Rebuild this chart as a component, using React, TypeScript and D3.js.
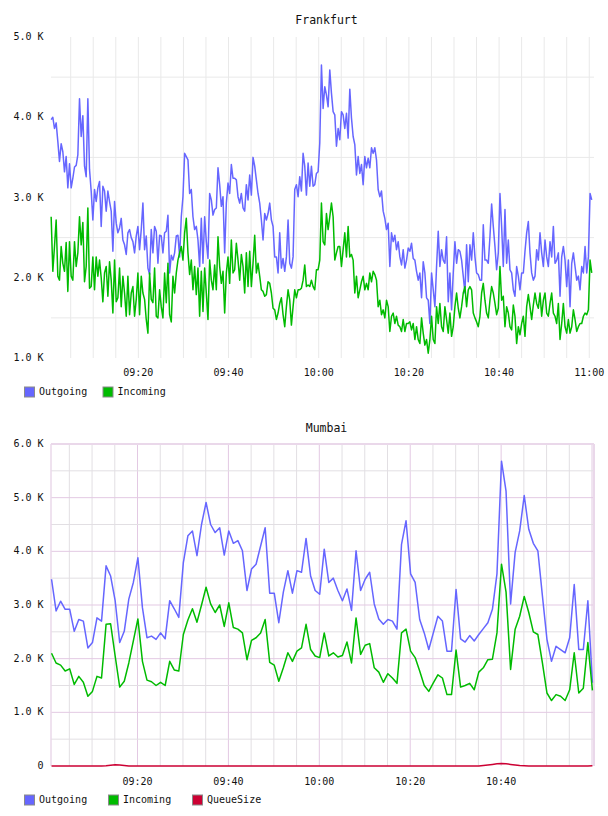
import React from "react";
import * as d3 from "d3";

// ---------- Frankfurt (samples every 22.2 s, values in thousands) ----------
const frankfurtStart = "09:00:40";
const frankfurtStepSeconds = 22.2;
const frankfurtDomain = ["09:00:38", "11:01:03"];
const frankfurtTimeTicks = ["09:20", "09:40", "10:00", "10:20", "10:40", "11:00"];
const frankfurtValueTicks = [1, 2, 3, 4, 5];
const frankfurtGridValues = [1.5, 2.5, 3.5, 4.5];

const frankfurtOutgoing = [
  3.97, 4.0, 3.86, 3.93, 3.7, 3.45, 3.67, 3.57, 3.32, 3.51,
  3.12, 3.42, 3.12, 3.24, 3.38, 3.4, 3.53, 4.23, 3.76, 4.02,
  3.39, 3.26, 4.23, 3.35, 3.08, 2.72, 3.1, 2.95, 3.12, 3.2,
  2.64, 3.14, 3.08, 2.83, 3.08, 2.95, 2.83, 2.33, 2.95, 2.68,
  2.56, 2.62, 2.74, 2.47, 2.41, 2.29, 2.56, 2.6, 2.5, 2.45,
  2.31, 2.52, 2.64, 2.35, 2.6, 2.93, 2.35, 2.52, 2.12, 2.04,
  2.6, 2.31, 2.64, 2.58, 2.18, 2.53, 2.52, 2.31, 2.56, 2.58,
  2.78, 2.06, 2.28, 2.22, 2.31, 2.52, 2.53, 2.26, 2.76, 3.01,
  3.55, 3.51,
  3.47, 3.05, 3.1, 2.76, 2.6, 2.64, 2.47, 2.14, 2.74, 2.18,
  2.76, 2.45, 2.24, 3.05, 2.97, 2.78, 2.85, 2.87, 3.37, 3.16,
  2.89, 3.01, 2.31, 2.93, 3.18, 3.05, 3.41, 3.24, 3.24, 3.22,
  3.01, 2.93, 3.05, 2.87, 2.83, 3.16, 2.97, 3.28, 3.03, 3.5,
  3.39, 3.22, 3.05, 2.93, 2.72, 2.47, 2.8, 2.72, 2.8, 2.93,
  2.72, 2.64, 2.26, 2.26, 2.06, 2.56, 2.12, 2.24, 2.08, 2.26,
  2.72, 2.18, 2.12, 2.26, 3.1, 3.16, 3.01, 3.26, 3.08, 3.55,
  3.39, 3.03, 3.43, 3.14, 3.39, 3.14, 3.16, 3.3, 3.32, 3.68,
  4.65,
  4.11, 4.38, 4.28, 4.13, 4.59, 4.3, 4.07, 4.03, 3.64, 3.86,
  3.72, 4.07, 4.03, 3.86, 4.05, 3.74, 4.35, 3.99, 3.76, 3.66,
  3.28, 3.51, 3.3, 3.41, 3.16, 3.51, 3.37, 3.49, 3.37, 3.62,
  3.55, 3.62, 3.47, 3.1, 3.01, 3.08, 2.83, 2.74, 2.6, 2.68,
  2.14, 2.56, 2.45, 2.53, 2.35, 2.45, 2.26, 2.16, 2.35, 2.12,
  2.22, 2.37, 2.33, 2.43, 2.24, 2.22, 2.08, 1.97, 2.06, 1.75,
  2.2, 2.06, 1.75, 1.72, 1.43, 2.06, 1.85, 1.64, 2.14, 2.58,
  2.14, 2.35, 2.22, 2.18, 2.51, 1.7, 2.06, 1.6, 2.06, 2.45,
  2.18, 2.35,
  2.33, 2.22, 2.02, 1.81, 2.41, 1.95, 2.41, 2.22, 2.56, 2.26,
  2.06, 2.04, 1.97, 1.97, 2.66, 2.22, 2.22, 2.18, 2.51, 2.92,
  2.64, 2.39, 2.1, 2.31, 3.05, 2.64, 2.14, 2.85, 2.18, 2.47,
  2.1, 2.06, 1.85, 1.77, 2.14, 2.02, 1.85, 2.06, 2.06, 2.33,
  2.56, 2.7, 2.31, 2.06, 1.97, 2.02, 2.35, 2.22, 2.56, 2.31,
  2.14, 2.47, 2.26, 2.14, 2.45, 2.26, 2.64, 2.18, 2.22, 2.31,
  1.77, 2.26, 2.39, 2.22, 1.89, 2.22, 1.64, 2.18, 2.31, 2.14,
  1.97, 2.02, 1.85, 2.14, 2.06, 2.39, 2.06, 2.26, 3.05, 2.97,
];

const frankfurtIncoming = [
  2.76, 2.08, 2.39, 2.72, 2.02, 1.97, 2.39, 2.18, 2.08, 2.44,
  1.83, 2.45, 2.02, 1.97, 2.45, 2.14, 2.31, 2.76, 2.41, 2.69,
  1.95, 2.14, 2.87, 1.87, 1.89, 2.26, 1.85, 2.26, 2.02, 2.22,
  2.0, 1.7, 2.06, 2.14, 1.77, 2.2, 1.97, 1.56, 2.22, 1.7,
  1.75, 2.12, 1.64, 2.02, 1.81, 1.52, 2.02, 1.54, 1.81, 1.89,
  1.52, 1.73, 2.06, 1.54, 2.02, 1.81, 1.73, 1.48, 1.31, 2.06,
  1.73, 1.69, 2.12, 1.52, 1.5, 1.85, 1.64, 1.5, 2.06, 1.69,
  2.18, 1.54, 1.45, 2.02, 1.81, 2.06, 2.22, 2.31, 2.39, 2.22,
  2.56, 2.74,
  2.31, 2.04, 2.22, 1.85, 2.14, 1.79, 2.12, 1.52, 2.08, 1.58,
  2.12, 1.81, 1.48, 2.22, 1.97, 1.85, 2.16, 1.85, 2.51, 2.14,
  1.93, 2.08, 1.56, 2.06, 2.26, 1.93, 2.47, 2.06, 2.1, 2.43,
  2.22, 1.97, 2.29, 2.14, 1.81, 2.31, 1.89, 2.33, 1.89, 2.18,
  2.53, 2.06, 2.18, 2.02, 1.85, 1.83, 1.77, 1.79, 1.95, 1.93,
  1.81, 1.62, 1.6, 1.48, 1.56, 1.68, 1.75, 1.54, 1.39, 1.64,
  1.85, 1.72, 1.41, 1.64, 1.85, 1.75, 1.85, 1.85, 1.87, 1.97,
  2.16, 1.89, 1.91, 1.89, 1.97, 1.89, 1.85, 2.1, 2.1, 2.22,
  2.93,
  2.45, 2.41, 2.8, 2.6, 2.76, 2.93, 2.76, 2.22, 2.31, 2.39,
  2.39, 2.14, 2.35, 2.56, 2.26, 2.64, 2.26, 2.29, 2.22, 1.81,
  2.02, 1.75, 1.85, 1.95, 2.02, 1.85, 1.93, 1.85, 2.06, 1.95,
  2.08, 2.04, 1.97, 1.64, 1.72, 1.54, 1.6, 1.5, 1.72, 1.64,
  1.33, 1.52, 1.56, 1.43, 1.52, 1.41, 1.39, 1.33, 1.48, 1.33,
  1.43, 1.43, 1.45, 1.35, 1.43, 1.23, 1.39, 1.23, 1.18, 1.5,
  1.31, 1.16, 1.23, 1.06, 1.23, 1.52, 1.23, 1.18, 1.64, 1.43,
  1.68, 1.39, 1.33, 1.64, 1.48, 1.31, 1.56, 1.27, 1.39, 1.64,
  1.81, 1.62,
  1.5, 1.64, 1.81, 1.89, 1.64, 1.85, 1.89, 1.85, 1.56, 1.5,
  1.45, 1.39, 1.52, 1.81, 1.93, 1.72, 1.56, 1.5, 1.72, 1.89,
  1.81, 1.68, 1.54, 1.62, 2.14, 1.72, 1.77, 1.39, 1.64, 1.56,
  1.39, 1.35, 1.66, 1.52, 1.18, 1.39, 1.29, 1.43, 1.52, 1.27,
  1.64, 1.79, 1.64, 1.48, 1.66, 1.81, 1.68, 1.62, 1.81, 1.52,
  1.72, 1.81, 1.56, 1.52, 1.68, 1.81, 1.56, 1.52, 1.43, 1.68,
  1.23, 1.43, 1.68, 1.39, 1.31, 1.48, 1.31, 1.39, 1.6, 1.48,
  1.33, 1.39, 1.43, 1.43, 1.52, 1.56, 1.54, 1.6, 2.22, 2.06,
];

// ---------- Mumbai (one sample per minute, values in thousands) ----------
const mumbaiStart = "09:01:05";
const mumbaiStepSeconds = 60;
const mumbaiDomain = ["09:00:58", "11:00:26"];
const mumbaiTimeTicks = ["09:20", "09:40", "10:00", "10:20", "10:40"];
const mumbaiValueTicks = [0, 1, 2, 3, 4, 5, 6];
const mumbaiMinorValues = [0.5, 1.5, 2.5, 3.5, 4.5, 5.5];

const mumbaiOutgoing = [
  3.48, 2.89, 3.07, 2.92, 2.92, 2.51, 2.73, 2.7, 2.2, 2.3,
  2.76, 2.7, 3.73, 3.54, 3.08, 2.3, 2.51, 3.11, 3.42, 3.88,
  2.95, 2.39, 2.42, 2.36, 2.48, 2.37, 3.08, 2.93, 2.77, 3.79,
  4.29, 4.38, 3.92, 4.5, 4.91, 4.5, 4.35, 4.44, 3.93, 4.38,
  4.15, 4.2, 4.01, 3.27, 3.67, 3.76, 4.1, 4.44, 3.22, 3.22,
  2.67, 3.24, 3.64, 3.22, 3.64, 3.61, 4.24, 3.54, 3.27, 3.2,
  4.04, 3.42, 3.5, 3.27, 3.08, 3.3, 2.9, 4.01, 3.27, 3.48,
  3.61, 3.02, 2.74, 2.64, 2.73, 2.7, 2.55, 4.13, 4.57, 3.58,
  3.42, 2.73, 2.48, 2.17, 2.48, 2.79, 2.7, 2.14, 2.14, 3.29,
  2.37, 2.31, 2.43, 2.33, 2.45, 2.56, 2.67, 2.92, 3.58, 5.68,
  5.12, 3.02, 3.98, 4.38, 5.04, 4.41, 4.15, 4.01, 3.17, 2.36,
  1.95, 2.23, 2.17, 2.11, 2.39, 3.38, 2.17, 2.17, 3.08, 1.55,
];

const mumbaiIncoming = [
  2.1, 1.92, 1.88, 1.77, 1.81, 1.52, 1.67, 1.56, 1.3, 1.39,
  1.67, 1.64, 2.64, 2.65, 2.05, 1.47, 1.58, 1.92, 2.33, 2.74,
  1.95, 1.6, 1.57, 1.5, 1.56, 1.5, 1.95, 1.79, 1.77, 2.45,
  2.72, 2.93, 2.68, 3.0, 3.33, 3.02, 2.86, 3.0, 2.6, 3.04,
  2.58, 2.55, 2.48, 1.98, 2.34, 2.39, 2.48, 2.73, 1.93, 1.88,
  1.58, 1.83, 2.11, 1.95, 2.14, 2.2, 2.64, 2.17, 2.05, 2.02,
  2.48, 2.05, 2.11, 2.03, 2.06, 2.31, 1.92, 2.76, 2.08, 2.25,
  2.28, 1.83, 1.75, 1.56, 1.72, 1.64, 1.54, 2.48, 2.55, 2.14,
  2.02, 1.77, 1.5, 1.39, 1.55, 1.7, 1.64, 1.33, 1.33, 2.16,
  1.47, 1.5, 1.54, 1.42, 1.75, 1.83, 1.98, 1.99, 2.48, 3.76,
  3.24, 1.8, 2.55, 2.79, 3.16, 2.86, 2.5, 2.45, 1.92, 1.36,
  1.22, 1.33, 1.3, 1.22, 1.42, 2.11, 1.36, 1.45, 2.3, 1.41,
];

const mumbaiQueueSize = [
  0, 0, 0, 0, 0, 0, 0, 0, 0, 0,
  0, 0, 0.005, 0.015, 0.025, 0.02, 0.01, 0, 0, 0,
  0, 0, 0, 0, 0, 0, 0, 0, 0, 0,
  0, 0, 0, 0, 0, 0, 0, 0, 0, 0,
  0, 0, 0, 0, 0, 0, 0, 0, 0, 0,
  0, 0, 0, 0, 0, 0, 0, 0, 0, 0,
  0, 0, 0, 0, 0, 0, 0, 0, 0, 0,
  0, 0, 0, 0, 0, 0, 0, 0, 0, 0,
  0, 0, 0, 0, 0, 0, 0, 0, 0, 0,
  0, 0, 0, 0, 0, 0.01, 0.02, 0.03, 0.04, 0.045,
  0.04, 0.03, 0.02, 0.01, 0.005, 0, 0, 0, 0, 0,
  0, 0, 0, 0, 0, 0, 0, 0, 0, 0.005,
];

const seriesNames = ["Outgoing", "Incoming", "QueueSize"];
const seriesColors = ["#6666ff", "#00bb00", "#cc0033"];

// ---------- helpers ----------
const parseHMS = d3.timeParse("%H:%M:%S");
const parseHM = d3.timeParse("%H:%M");
const FONT = "'DejaVu Sans Mono', monospace";
const fmtK = (v: number) => (v === 0 ? "0" : `${v.toFixed(1)} K`);

type Series = { name: string; color: string; values: number[] };

type PanelProps = {
  title: string;
  titleY: number;
  top: number;
  bottom: number;
  left: number;
  right: number;
  xLabelY: number;
  legendY: number;
  legendGap: number;
  domain: string[];
  start: string;
  stepSeconds: number;
  yDomain: [number, number];
  valueTicks: number[];
  timeTicks: string[];
  series: Series[];
  framed: boolean;
  gridValues: number[];
};

function Panel(p: PanelProps) {
  const t0 = parseHMS(p.domain[0]) as Date;
  const t1 = parseHMS(p.domain[1]) as Date;
  const x = d3.scaleTime().domain([t0, t1]).range([p.left, p.right]);
  const y = d3.scaleLinear().domain(p.yDomain).range([p.bottom, p.top]);
  const startTime = (parseHMS(p.start) as Date).getTime();
  const timeAt = (i: number) => new Date(startTime + i * p.stepSeconds * 1000);

  const line = d3
    .line<number>()
    .x((_, i) => x(timeAt(i)))
    .y((v) => y(v));

  const fiveMinutes = d3.timeMinute.every(5)!.range(t0, t1);

  const minorColor = p.framed ? "#e2dfe3" : "#e9e9e9";
  const majorColor = "#e3c9e3";

  return (
    <g>
      <text
        x={(p.left + p.right) / 2 + 4}
        y={p.titleY}
        textAnchor="middle"
        dominantBaseline="middle"
        fontFamily={FONT}
        fontSize={11.5}
        fill="#111"
      >
        {p.title}
      </text>

      {/* vertical grid every five minutes */}
      {fiveMinutes.map((d, i) => {
        const major = p.framed && d.getMinutes() % 20 === 0;
        return (
          <line
            key={`v${i}`}
            x1={x(d)}
            x2={x(d)}
            y1={p.top}
            y2={p.bottom}
            stroke={major ? majorColor : minorColor}
            strokeWidth={1}
          />
        );
      })}

      {/* horizontal grid */}
      {p.gridValues.map((v, i) => (
        <line
          key={`h${i}`}
          x1={p.left}
          x2={p.right}
          y1={y(v)}
          y2={y(v)}
          stroke={minorColor}
          strokeWidth={1}
        />
      ))}
      {p.framed &&
        p.valueTicks.slice(1, -1).map((v, i) => (
          <line
            key={`hm${i}`}
            x1={p.left}
            x2={p.right}
            y1={y(v)}
            y2={y(v)}
            stroke={majorColor}
            strokeWidth={1}
          />
        ))}
      {p.framed && (
        <g fill="none" stroke="#ead8ea">
          <line x1={p.left} x2={p.right} y1={p.top} y2={p.top} strokeWidth={2} />
          <line x1={p.left} x2={p.left} y1={p.top} y2={p.bottom} strokeWidth={1.5} />
          <line x1={p.right} x2={p.right} y1={p.top} y2={p.bottom} strokeWidth={2} />
        </g>
      )}

      {/* value axis labels */}
      {p.valueTicks.map((v) => (
        <text
          key={`yl${v}`}
          x={43.5}
          y={y(v)}
          textAnchor="end"
          dominantBaseline="middle"
          fontFamily={FONT}
          fontSize={10}
          fill="#111"
        >
          {fmtK(v)}
        </text>
      ))}

      {/* time axis labels */}
      {p.timeTicks.map((s) => (
        <text
          key={`xl${s}`}
          x={x(parseHM(s) as Date)}
          y={p.xLabelY}
          textAnchor="middle"
          dominantBaseline="middle"
          fontFamily={FONT}
          fontSize={10}
          fill="#111"
        >
          {s}
        </text>
      ))}

      {/* series */}
      {p.series.map((s) => (
        <path
          key={s.name}
          d={line(s.values) ?? ""}
          fill="none"
          stroke={s.color}
          strokeWidth={1.5}
          strokeLinejoin="round"
        />
      ))}

      {/* legend */}
      {p.series.map((s, i) => {
        const lx = 24.5 + i * p.legendGap;
        return (
          <g key={`lg${s.name}`}>
            <rect
              x={lx}
              y={p.legendY - 5}
              width={10}
              height={10}
              fill={s.color}
              stroke="#8a8a8a"
              strokeWidth={1}
            />
            <text
              x={lx + 14.5}
              y={p.legendY}
              dominantBaseline="middle"
              fontFamily={FONT}
              fontSize={10}
              fill="#111"
            >
              {s.name}
            </text>
          </g>
        );
      })}
    </g>
  );
}

export default function App() {
  const frankfurtSeries: Series[] = [
    { name: seriesNames[0], color: seriesColors[0], values: frankfurtOutgoing },
    { name: seriesNames[1], color: seriesColors[1], values: frankfurtIncoming },
  ];
  const mumbaiSeries: Series[] = [
    { name: seriesNames[0], color: seriesColors[0], values: mumbaiOutgoing },
    { name: seriesNames[1], color: seriesColors[1], values: mumbaiIncoming },
    { name: seriesNames[2], color: seriesColors[2], values: mumbaiQueueSize },
  ];

  return (
    <svg
      width={608}
      height={816}
      style={{ position: "absolute", left: 0, top: 0, background: "#fff" }}
    >
      <Panel
        title="Frankfurt"
        titleY={20}
        top={37}
        bottom={358}
        left={51}
        right={594}
        xLabelY={373}
        legendY={392}
        legendGap={78.5}
        domain={frankfurtDomain}
        start={frankfurtStart}
        stepSeconds={frankfurtStepSeconds}
        yDomain={[1, 5]}
        valueTicks={frankfurtValueTicks}
        timeTicks={frankfurtTimeTicks}
        series={frankfurtSeries}
        framed={false}
        gridValues={frankfurtGridValues}
      />
      <Panel
        title="Mumbai"
        titleY={428}
        top={444}
        bottom={766}
        left={51}
        right={594}
        xLabelY={782}
        legendY={800}
        legendGap={84}
        domain={mumbaiDomain}
        start={mumbaiStart}
        stepSeconds={mumbaiStepSeconds}
        yDomain={[0, 6]}
        valueTicks={mumbaiValueTicks}
        timeTicks={mumbaiTimeTicks}
        series={mumbaiSeries}
        framed={true}
        gridValues={mumbaiMinorValues}
      />
    </svg>
  );
}
